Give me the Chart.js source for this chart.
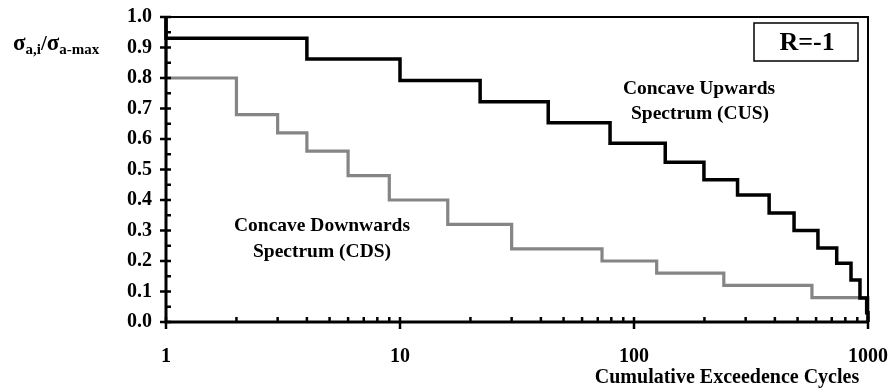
<!DOCTYPE html>
<html><head><meta charset="utf-8">
<script src="https://cdn.jsdelivr.net/npm/chart.js@4.4.0/dist/chart.umd.min.js"></script>
<style>html,body{margin:0;padding:0;background:#fff}#wrap{width:892px;height:392px;position:relative}</style>
</head><body><div id="wrap"><canvas id="c"></canvas></div>
<script>
// ---- data ----
const xTickValues = [1, 10, 100, 1000];
const yTickLabels = ['0.0','0.1','0.2','0.3','0.4','0.5','0.6','0.7','0.8','0.9','1.0'];
// Concave Upwards Spectrum: level holds from cycle[i] to cycle[i+1]
const cusCycles = [1, 1, 4, 10, 22, 43, 79, 136, 199, 277, 378, 483, 611, 735, 846, 924, 987, 1000];
const cusRatio  = [1.0, 0.93, 0.862, 0.792, 0.722, 0.653, 0.586, 0.524, 0.466, 0.416, 0.357, 0.30, 0.243, 0.193, 0.138, 0.079, 0.03, 0.0];
// Concave Downwards Spectrum
const cdsCycles = [1, 1, 2, 3, 4, 6, 9, 16, 30, 73, 125, 242, 576, 1000];
const cdsRatio  = [1.0, 0.80, 0.68, 0.62, 0.56, 0.48, 0.40, 0.32, 0.24, 0.20, 0.16, 0.12, 0.08, 0.0];

const FONT = "'Liberation Serif','Times New Roman',serif";
const toPts = (xs, ys) => xs.map((x, i) => ({x: x, y: ys[i]}));

const deco = {
  id: 'deco',
  afterDatasetsDraw(chart) {
    const {ctx, chartArea: a, scales: {x, y}} = chart;
    ctx.save();
    ctx.strokeStyle = '#000';
    ctx.lineCap = 'butt';
    // thin top/right frame
    ctx.lineWidth = 2;
    ctx.beginPath();
    ctx.moveTo(a.left, a.top); ctx.lineTo(a.right, a.top); ctx.lineTo(a.right, a.bottom);
    ctx.stroke();
    // thick axes
    ctx.lineWidth = 3;
    ctx.beginPath();
    ctx.moveTo(a.left, a.top - 1); ctx.lineTo(a.left, a.bottom); ctx.lineTo(a.right + 1, a.bottom);
    ctx.stroke();
    // y ticks
    ctx.lineWidth = 2.5;
    ctx.beginPath();
    for (let k = 0; k <= 20; k++) {
      const py = y.getPixelForValue(k * 0.05);
      if (k % 2 === 0) { ctx.moveTo(a.left - 6, py); ctx.lineTo(a.left + 5, py); }
      else { ctx.moveTo(a.left, py); ctx.lineTo(a.left + 5, py); }
    }
    // x ticks
    for (let d = 1; d <= 1000; d *= 10) {
      for (let m = 1; m <= 9; m++) {
        const v = d * m;
        if (v > 1000) break;
        const px = x.getPixelForValue(v);
        if (m === 1) { ctx.moveTo(px, a.bottom - 5); ctx.lineTo(px, a.bottom + 7); }
        else { ctx.moveTo(px, a.bottom - 5); ctx.lineTo(px, a.bottom); }
      }
    }
    ctx.stroke();

    ctx.fillStyle = '#000';
    ctx.textAlign = 'center';
    ctx.textBaseline = 'middle';
    // annotations
    ctx.font = 'bold 19.5px ' + FONT;
    ctx.fillText('Concave Upwards', 699, 89);
    ctx.fillText('Spectrum (CUS)', 700, 114);
    ctx.fillText('Concave Downwards', 322, 226);
    ctx.fillText('Spectrum (CDS)', 322, 252);
    // x title
    ctx.font = 'bold 20px ' + FONT;
    ctx.fillText('Cumulative Exceedence Cycles', 727, 378);
    // R box
    ctx.lineWidth = 1.5;
    ctx.strokeRect(754, 23, 104, 38);
    ctx.font = 'bold 26px ' + FONT;
    ctx.fillText('R=-1', 807, 43);
    // y title with subscripts
    ctx.textAlign = 'left';
    ctx.textBaseline = 'alphabetic';
    let cx = 13; const base = 50;
    const part = (t, size, dy) => { ctx.font = 'bold ' + size + 'px ' + FONT; ctx.fillText(t, cx, base + dy); cx += ctx.measureText(t).width; };
    part('σ', 23, 0); part('a,i', 15, 4); part('/', 21, 0); part('σ', 23, 0); part('a-max', 15, 4);
    ctx.restore();
  }
};

new Chart(document.getElementById('c'), {
  type: 'line',
  data: {
    datasets: [
      {label: 'CUS', data: toPts(cusCycles, cusRatio), borderColor: '#000', borderWidth: 3.5, stepped: 'before', pointRadius: 0, fill: false, clip: false},
      {label: 'CDS', data: toPts(cdsCycles, cdsRatio), borderColor: '#858585', borderWidth: 3.2, stepped: 'before', pointRadius: 0, fill: false, clip: false}
    ]
  },
  options: {
    responsive: true, maintainAspectRatio: false, animation: false,
    layout: {padding: {left: 0, right: 24, top: 17, bottom: 0}},
    plugins: {legend: {display: false}, tooltip: {enabled: false}},
    scales: {
      x: {
        type: 'logarithmic', min: 1, max: 1000,
        afterBuildTicks: s => { s.ticks = xTickValues.map(v => ({value: v})); },
        afterFit: s => { s.height = 70; s.paddingLeft = 0; s.paddingRight = 0; },
        grid: {display: false, drawTicks: false}, border: {display: false},
        ticks: {autoSkip: false, maxRotation: 0, padding: 23, color: '#000',
                font: {family: FONT, size: 20, weight: 'bold'},
                callback: v => String(v)}
      },
      y: {
        min: 0, max: 1,
        afterFit: s => { s.width = 166; s.paddingTop = 0; s.paddingBottom = 0; },
        grid: {display: false, drawTicks: false}, border: {display: false},
        ticks: {stepSize: 0.1, padding: 14, color: '#000',
                font: {family: FONT, size: 20, weight: 'bold'},
                callback: (v) => yTickLabels[Math.round(v * 10)]}
      }
    }
  },
  plugins: [deco]
});
</script>
</body></html>
